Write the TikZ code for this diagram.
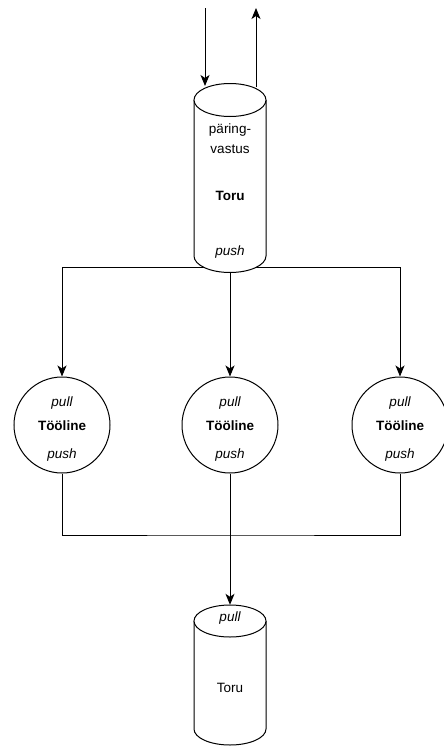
\documentclass[tikz,border=0pt]{standalone}
\usepackage{fontspec}
\setmainfont{Liberation Sans}
\usepackage{tikz}
\usetikzlibrary{arrows.meta}

\begin{document}
\begin{tikzpicture}[
	x=1pt, y=-1pt,
	% Define styles for the shapes and texts
	worker/.style={circle, draw, line width=1pt, fill=white, minimum size=96pt, inner sep=0pt},
	txt/.style={font=\fontsize{13.5}{20}\selectfont, inner sep=1pt, align=center},
	link/.style={line width=1pt},
	arr/.style={line width=1pt, -{Stealth[length=11pt, width=9pt, inset=3pt]}}
	]
	\useasboundingbox (0,0) rectangle (444,747);
	
	% Place the nodes
	\node[minimum width=72pt, minimum height=172pt, inner sep=0pt] (pipe) at (230,186) {};
	\node[worker] (w1) at (62,425) {};
	\node[worker] (w2) at (230,425) {};
	\node[worker] (w3) at (400,425) {};
	\node[minimum width=72pt, minimum height=124pt, inner sep=0pt] (sink) at (230,667) {};
	
	\coordinate (reqStart) at (205,8);
	\coordinate (reqEnd) at (205,86);
	\coordinate (respStart) at (256,87);
	\coordinate (respEnd) at (256,8);
	\coordinate (split) at (230,267);
	\coordinate (join) at (230,535);
	
	% --- Draw the edges ---
	\draw[arr] (reqStart) -- (reqEnd);
	\draw[arr] (respStart) -- (respEnd);
	\draw[arr] (split) -| (w1.north);
	\draw[arr] (split) -| (w3.north);
	\draw[arr] (pipe.south) -- (w2.north);
	\draw[link] (w1.south) |- (join) -| (w3.south);
	\draw[arr] (w2.south) -- (sink.north);
	
	% --- Draw the pipes ---
	\draw[line width=1pt, fill=white] (194,100) -- (194,256) arc[start angle=180, end angle=0, x radius=36, y radius=16.5] -- (266,100);
	\draw[line width=1pt, fill=white] (230,100) ellipse[x radius=36, y radius=16.5];
	\draw[line width=1pt, fill=white] (194,621) -- (194,729) arc[start angle=180, end angle=0, x radius=36, y radius=16] -- (266,621);
	\draw[line width=1pt, fill=white] (230,621) ellipse[x radius=36, y radius=16];
	
	% --- Texts ---
	\node[txt] (pipeName) at (230,139) {päring-\\vastus};
	\node[txt, font=\fontsize{13.5}{20}\selectfont\bfseries] (pipeType) at (230,196) {Toru};
	\node[txt, font=\fontsize{13.5}{20}\selectfont\itshape] (pipePush) at (230,252) {push};
	
	\node[txt, font=\fontsize{13.5}{20}\selectfont\itshape] (w1pull) at (62,403) {pull};
	\node[txt, font=\fontsize{13.5}{20}\selectfont\bfseries] (w1name) at (62,426) {Tööline};
	\node[txt, font=\fontsize{13.5}{20}\selectfont\itshape] (w1push) at (62,455) {push};
	\node[txt, font=\fontsize{13.5}{20}\selectfont\itshape] (w2pull) at (230,403) {pull};
	\node[txt, font=\fontsize{13.5}{20}\selectfont\bfseries] (w2name) at (230,426) {Tööline};
	\node[txt, font=\fontsize{13.5}{20}\selectfont\itshape] (w2push) at (230,455) {push};
	\node[txt, font=\fontsize{13.5}{20}\selectfont\itshape] (w3pull) at (400,403) {pull};
	\node[txt, font=\fontsize{13.5}{20}\selectfont\bfseries] (w3name) at (400,426) {Tööline};
	\node[txt, font=\fontsize{13.5}{20}\selectfont\itshape] (w3push) at (400,455) {push};
	
	\node[txt, font=\fontsize{13.5}{20}\selectfont\itshape] (sinkPull) at (230,618) {pull};
	\node[txt] (sinkName) at (230,688) {Toru};
\end{tikzpicture}
\end{document}
